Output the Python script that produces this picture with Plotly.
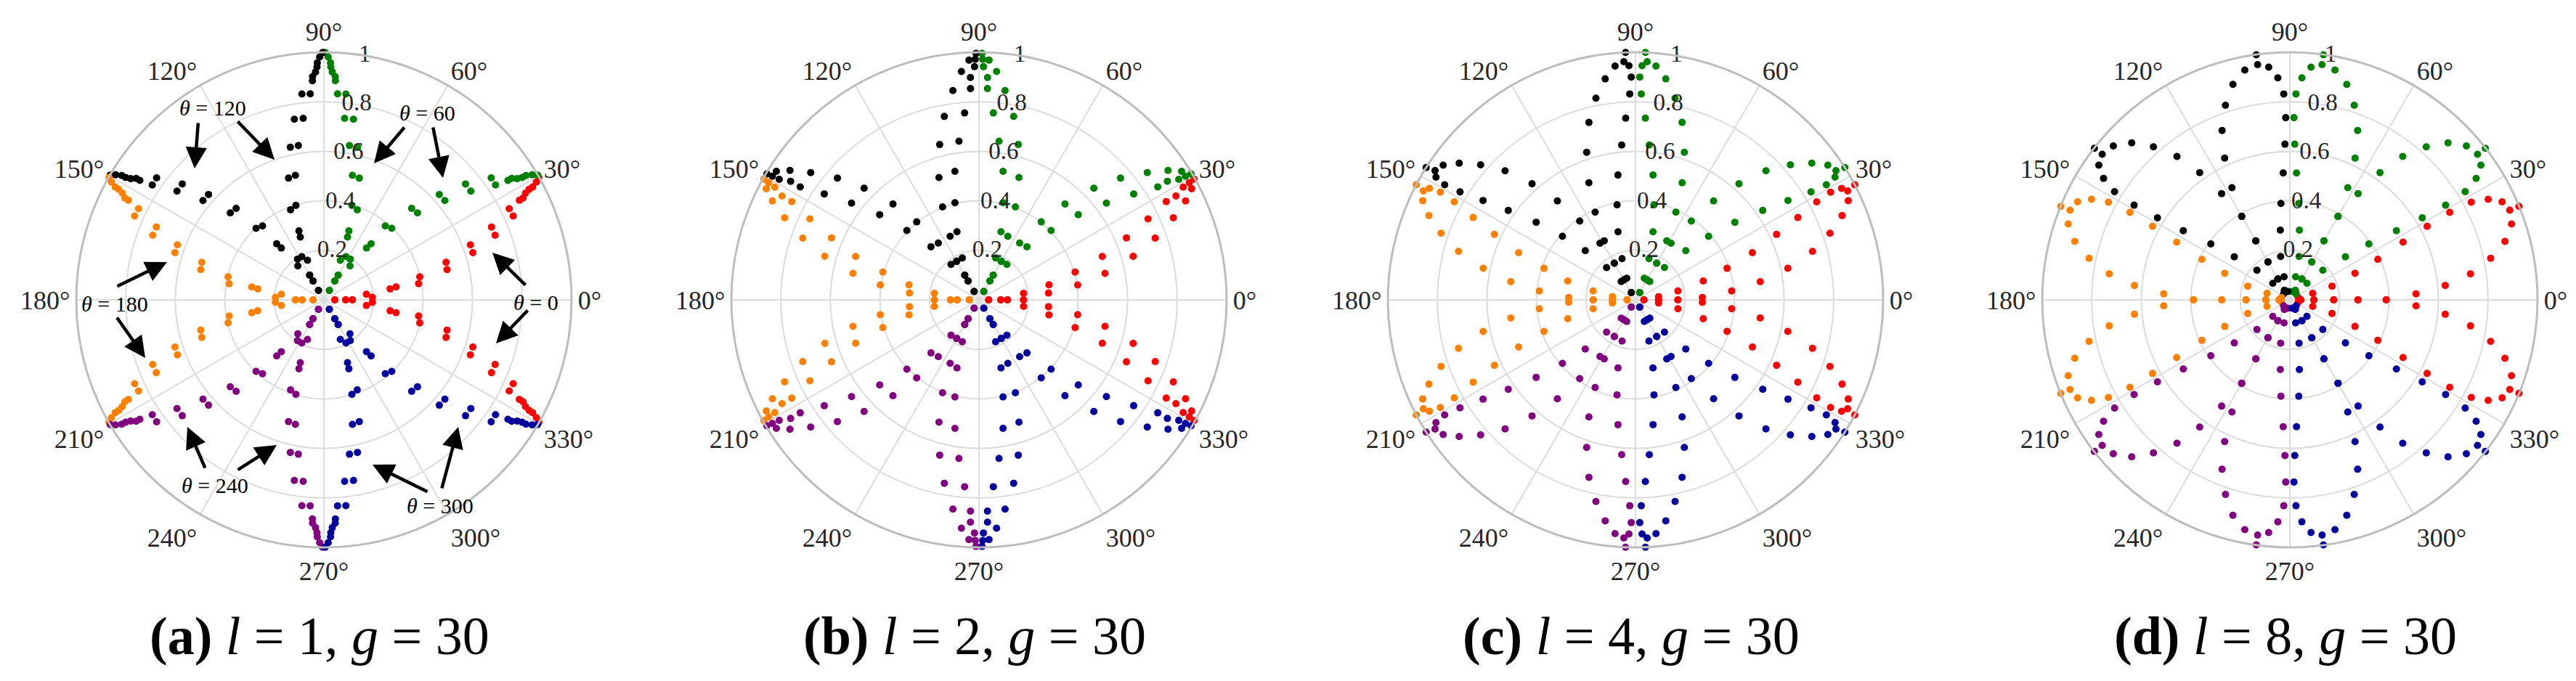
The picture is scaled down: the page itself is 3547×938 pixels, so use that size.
import plotly.graph_objects as go

# ---------------- data ----------------
PETAL_CENTERS = [0, 60, 120, 180, 240, 300]          # theta of each lobe (deg)
PETAL_COLORS = ["#ff0000", "#008000", "#000000", "#ff8000", "#800080", "#00009c"]

# one lobe per panel, half lobe: angular offset from lobe centre (deg) and radius
A_OFFSET = [0, 0, 0, 7.5, 2.9, 9.4, 10.1, 13.5, 9.7, 17.1, 13.8, 20.6, 17.6, 23.5, 20.7,
            26.2, 23.9, 27.0, 27.1, 27.9, 28.3, 28.4, 29.0, 29.7]
A_R = [0.044, 0.088, 0.115, 0.173, 0.196, 0.271, 0.296, 0.398, 0.388, 0.516, 0.512, 0.632,
       0.631, 0.738, 0.739, 0.834, 0.836, 0.886, 0.903, 0.921, 0.941, 0.958, 0.981, 0.999]

B_OFFSET = [0, 0, 0, 8.3, 0, 12.1, 5.6, 16.1, 8.6, 19.4, 11.9, 22.8, 15.8, 25.6, 19.3,
            27.7, 22.9, 27.8, 25.6, 28.9, 27.6, 29.1, 29.3]
B_R = [0.039, 0.088, 0.115, 0.182, 0.180, 0.289, 0.282, 0.404, 0.403, 0.528, 0.520, 0.646,
       0.647, 0.757, 0.754, 0.854, 0.852, 0.899, 0.925, 0.942, 0.969, 0.972, 0.996]

C_OFFSET = [0, 7.8, 0, 11.9, 0, 15.6, 2.1, 19.0, 5.3, 22.0, 8.3, 24.9, 11.7, 26.9, 15.3,
            28.4, 18.9, 28.9, 22.2, 28.4, 25.0, 27.2, 27.7]
C_R = [0.034, 0.094, 0.093, 0.175, 0.171, 0.284, 0.270, 0.391, 0.390, 0.509, 0.509, 0.628,
       0.628, 0.735, 0.741, 0.832, 0.830, 0.900, 0.901, 0.946, 0.948, 0.963, 1.000]

D_OFFSET = [16, 0, 15.9, 0, 18, 0, 22.2, 0, 24.7, 0, 27, 2.7, 28.2, 5.3, 28.7, 8.2,
            28.3, 11.7, 26.9, 15.2, 24.8, 18.9, 22.2, 22.2]
D_R = [0.035, 0.044, 0.096, 0.097, 0.179, 0.177, 0.284, 0.275, 0.391, 0.389, 0.513, 0.510,
       0.629, 0.630, 0.736, 0.737, 0.832, 0.828, 0.898, 0.900, 0.944, 0.946, 0.959, 0.999]

PANELS = [(A_OFFSET, A_R), (B_OFFSET, B_R), (C_OFFSET, C_R), (D_OFFSET, D_R)]
CAPTIONS = ["<b>(a)</b> <i>l</i> = 1, <i>g</i> = 30",
            "<b>(b)</b> <i>l</i> = 2, <i>g</i> = 30",
            "<b>(c)</b> <i>l</i> = 4, <i>g</i> = 30",
            "<b>(d)</b> <i>l</i> = 8, <i>g</i> = 30"]
ANGLE_TICKS = list(range(0, 360, 30))
ANGLE_LABELS = [f"{a}°" for a in ANGLE_TICKS]
R_TICKS = [0.2, 0.4, 0.6, 0.8, 1]
R_LABELS = ["0.2", "0.4", "0.6", "0.8", "1"]
R_LABEL_ANGLE = 80.5

# lobe labels in panel (a): text, text position, two arrows (tail, head) in px
LOBE_NOTES = [
    ("θ = 120", (285, 140), [((265, 160), (260, 224)), ((318, 158), (370, 212))]),
    ("θ = 60", (580, 148), [((550, 166), (507, 217)), ((588, 166), (602, 237))]),
    ("θ = 180", (150, 410), [((152, 387), (222, 353)), ((152, 428), (192, 485))]),
    ("θ = 0", (730, 408), [((717, 386), (670, 340)), ((720, 418), (675, 465))]),
    ("θ = 240", (288, 660), [((275, 638), (250, 580)), ((318, 640), (373, 605))]),
    ("θ = 300", (598, 688), [((582, 670), (505, 632)), ((600, 666), (623, 580))]),
]

# ---------------- layout geometry ----------------
W, H = 3547, 938
CX = [438, 1340, 2244, 3145]
CY = 405
RAD = 341
FONT = "Liberation Serif"

fig = go.Figure()
layout = dict(width=W, height=H, margin=dict(l=0, r=0, t=0, b=0),
              paper_bgcolor="white", plot_bgcolor="white", showlegend=False,
              font=dict(family=FONT, color="#262626"))
annotations = []

for i, (offs, rs) in enumerate(PANELS):
    pid = "polar" if i == 0 else f"polar{i+1}"
    for c, col in zip(PETAL_CENTERS, PETAL_COLORS):
        th = [c + o for o in offs] + [c - o for o in offs]
        rr = list(rs) + list(rs)
        fig.add_trace(go.Scatterpolar(r=rr, theta=th, mode="markers", subplot=pid,
                                      marker=dict(color=col, size=10, line=dict(width=0)),
                                      hoverinfo="skip"))
    # radial tick labels, placed on the 80.5 deg ray through the polar scales
    fig.add_trace(go.Scatterpolar(r=R_TICKS, theta=[R_LABEL_ANGLE] * len(R_TICKS),
                                  mode="text", text=R_LABELS, textposition="middle center",
                                  textfont=dict(family=FONT, size=33, color="#262626"),
                                  subplot=pid, hoverinfo="skip", cliponaxis=False))
    x0 = (CX[i] - RAD) / W
    x1 = (CX[i] + RAD) / W
    y0 = 1 - (CY + RAD) / H
    y1 = 1 - (CY - RAD) / H
    layout[pid] = dict(
        domain=dict(x=[x0, x1], y=[y0, y1]),
        bgcolor="white",
        radialaxis=dict(range=[0, 1], tickvals=R_TICKS, showticklabels=False,
                        angle=80, showline=False, ticks="",
                        gridcolor="#dcdcdc", gridwidth=2),
        angularaxis=dict(tickvals=ANGLE_TICKS, ticktext=ANGLE_LABELS, direction="counterclockwise",
                         rotation=0, ticks="", showline=True, linecolor="#bdbdbd", linewidth=3,
                         gridcolor="#dcdcdc", gridwidth=2,
                         tickfont=dict(family=FONT, size=36, color="#262626")),
    )
    annotations.append(dict(text=CAPTIONS[i], x=(CX[i] - 6) / W, y=1 - 868 / H,
                            xref="paper", yref="paper", showarrow=False,
                            xanchor="center", yanchor="middle",
                            font=dict(family=FONT, size=74, color="black")))

for text, (tx, ty), arrows in LOBE_NOTES:
    t, v = text.split(" = ")
    annotations.append(dict(text=f"<i>{t}</i> = {v}", x=tx / W, y=1 - ty / H,
                            xref="paper", yref="paper", showarrow=False,
                            xanchor="center", yanchor="middle",
                            font=dict(family=FONT, size=30, color="black")))
    for (tail, head) in arrows:
        annotations.append(dict(text="", x=head[0] / W, y=1 - head[1] / H,
                                xref="paper", yref="paper", showarrow=True,
                                ax=tail[0] - head[0], ay=tail[1] - head[1],
                                arrowhead=2, arrowsize=1.3, arrowwidth=4.5,
                                arrowcolor="black"))

layout["annotations"] = annotations
fig.update_layout(**layout)
fig.write_html("out.html")
